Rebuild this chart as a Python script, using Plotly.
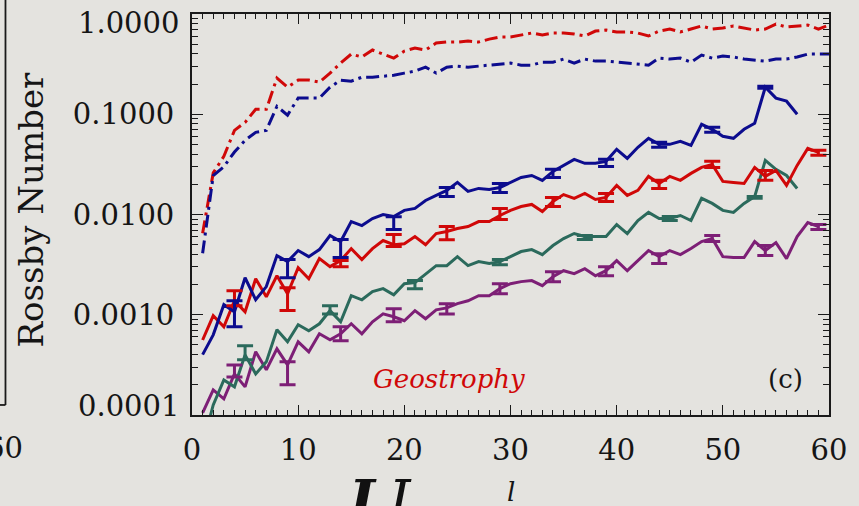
import math
import plotly.graph_objects as go

# ---------------- data ----------------
l_blue = list(range(1, 58))
ro_blue = [4.0e-4, 6.3e-4, 1.26e-3, 1.07e-3, 2.34e-3, 1.41e-3, 1.91e-3, 3.89e-3, 3.39e-3, 4.37e-3,
           3.80e-3, 4.47e-3, 6.17e-3, 5.37e-3, 8.51e-3, 7.76e-3, 9.12e-3, 1.00e-2, 9.55e-3, 1.10e-2,
           1.15e-2, 1.38e-2, 1.55e-2, 1.74e-2, 2.09e-2, 1.70e-2, 1.82e-2, 1.78e-2, 1.86e-2, 2.09e-2,
           2.34e-2, 2.45e-2, 2.19e-2, 2.69e-2, 3.09e-2, 3.55e-2, 3.24e-2, 3.24e-2, 3.39e-2, 4.47e-2,
           3.63e-2, 4.68e-2, 5.75e-2, 5.01e-2, 5.01e-2, 5.37e-2, 4.90e-2, 7.94e-2, 7.08e-2, 6.03e-2,
           5.75e-2, 7.08e-2, 8.13e-2, 0.186, 0.145, 0.135, 0.100]

l_red = list(range(1, 60))
ro_red = [5.6e-4, 9.8e-4, 7.6e-4, 1.38e-3, 1.07e-3, 2.29e-3, 1.51e-3, 2.45e-3, 1.62e-3, 2.95e-3,
          2.29e-3, 3.63e-3, 3.02e-3, 3.47e-3, 4.57e-3, 3.55e-3, 4.57e-3, 5.5e-3, 5.0e-3, 5.1e-3,
          6.03e-3, 5.0e-3, 6.46e-3, 6.76e-3, 7.24e-3, 7.59e-3, 8.51e-3, 8.51e-3, 9.77e-3, 1.10e-2,
          1.20e-2, 1.26e-2, 1.07e-2, 1.35e-2, 1.58e-2, 1.45e-2, 1.62e-2, 1.41e-2, 1.48e-2, 1.95e-2,
          1.55e-2, 1.74e-2, 2.40e-2, 2.04e-2, 2.40e-2, 2.19e-2, 2.57e-2, 2.95e-2, 3.16e-2, 2.14e-2,
          2.09e-2, 2.04e-2, 2.95e-2, 2.40e-2, 2.75e-2, 1.95e-2, 3.09e-2, 4.57e-2, 4.17e-2]

l_teal = list(range(1, 58))
ro_teal = [5.0e-5, 1.26e-4, 2.24e-4, 1.91e-4, 3.98e-4, 2.57e-4, 3.39e-4, 7.08e-4, 5.37e-4, 7.94e-4,
           6.92e-4, 8.13e-4, 1.10e-3, 8.51e-4, 1.55e-3, 1.41e-3, 1.70e-3, 1.82e-3, 1.58e-3, 2.04e-3,
           2.09e-3, 2.57e-3, 3.09e-3, 3.09e-3, 3.80e-3, 3.09e-3, 3.39e-3, 3.24e-3, 3.39e-3, 3.80e-3,
           4.27e-3, 4.47e-3, 3.98e-3, 4.90e-3, 5.75e-3, 6.46e-3, 6.03e-3, 6.03e-3, 6.03e-3, 7.94e-3,
           6.46e-3, 8.71e-3, 1.05e-2, 9.12e-3, 9.12e-3, 9.77e-3, 8.71e-3, 1.45e-2, 1.29e-2, 1.10e-2,
           1.05e-2, 1.29e-2, 1.51e-2, 3.47e-2, 2.82e-2, 2.45e-2, 1.82e-2]

l_purple = list(range(1, 60))
ro_purple = [1.05e-4, 1.78e-4, 1.45e-4, 2.57e-4, 1.91e-4, 4.27e-4, 2.82e-4, 4.57e-4, 3.16e-4, 5.37e-4,
             4.27e-4, 6.46e-4, 5.62e-4, 6.46e-4, 8.13e-4, 6.46e-4, 8.51e-4, 1.02e-3, 9.55e-4, 8.71e-4,
             1.10e-3, 9.12e-4, 1.12e-3, 1.17e-3, 1.29e-3, 1.38e-3, 1.55e-3, 1.55e-3, 1.82e-3, 2.04e-3,
             2.14e-3, 2.19e-3, 1.95e-3, 2.40e-3, 2.75e-3, 2.57e-3, 2.88e-3, 2.45e-3, 2.75e-3, 3.47e-3,
             2.75e-3, 3.47e-3, 4.37e-3, 3.80e-3, 4.37e-3, 3.98e-3, 4.57e-3, 5.37e-3, 5.75e-3, 3.80e-3,
             3.72e-3, 3.72e-3, 5.37e-3, 4.37e-3, 5.25e-3, 3.63e-3, 6.03e-3, 8.32e-3, 7.59e-3]

l_geo = list(range(1, 61))
ro_geo_red = [6.5e-3, 2.6e-2, 3.8e-2, 6.9e-2, 8.3e-2, 0.112, 0.112, 0.229, 0.186, 0.219,
              0.219, 0.209, 0.257, 0.324, 0.398, 0.372, 0.437, 0.398, 0.363, 0.427,
              0.457, 0.437, 0.513, 0.525, 0.525, 0.537, 0.525, 0.562, 0.589, 0.589,
              0.617, 0.646, 0.617, 0.646, 0.646, 0.631, 0.603, 0.676, 0.692, 0.661,
              0.661, 0.646, 0.603, 0.676, 0.708, 0.661, 0.708, 0.759, 0.708, 0.724,
              0.759, 0.724, 0.692, 0.708, 0.794, 0.741, 0.759, 0.776, 0.708, 0.776]
ro_geo_blue = [4.1e-3, 2.45e-2, 3.0e-2, 4.2e-2, 5.5e-2, 6.6e-2, 6.9e-2, 0.120, 0.098, 0.145,
               0.145, 0.145, 0.186, 0.219, 0.214, 0.234, 0.234, 0.240, 0.245, 0.257,
               0.269, 0.295, 0.257, 0.295, 0.302, 0.295, 0.302, 0.309, 0.316, 0.324,
               0.309, 0.309, 0.331, 0.331, 0.355, 0.324, 0.355, 0.339, 0.339, 0.331,
               0.324, 0.316, 0.309, 0.363, 0.355, 0.363, 0.331, 0.389, 0.363, 0.380,
               0.372, 0.355, 0.347, 0.339, 0.355, 0.355, 0.372, 0.398, 0.398, 0.398]

# error bars: positions, lower and upper bounds
eb_l_blue = [4, 9, 14, 19, 24, 29, 34, 39, 44, 49, 54]
eb_lo_blue = [7.6e-4, 2.34e-3, 3.72e-3, 7.1e-3, 1.51e-2, 1.66e-2, 2.34e-2, 3.02e-2, 4.68e-2, 6.6e-2, 0.182]
eb_hi_blue = [1.38e-3, 3.55e-3, 5.62e-3, 9.5e-3, 1.86e-2, 2.04e-2, 2.82e-2, 3.55e-2, 5.25e-2, 7.4e-2, 0.19]

eb_l_red = [4, 9, 14, 19, 24, 29, 34, 39, 44, 49, 54, 59]
eb_lo_red = [1.23e-3, 1.10e-3, 3.02e-3, 4.8e-3, 5.6e-3, 8.9e-3, 1.20e-2, 1.35e-2, 1.82e-2, 2.95e-2, 2.19e-2, 3.89e-2]
eb_hi_red = [1.74e-3, 1.86e-3, 3.47e-3, 6.3e-3, 7.6e-3, 1.15e-2, 1.48e-2, 1.62e-2, 2.19e-2, 3.39e-2, 2.75e-2, 4.37e-2]

eb_l_teal = [5, 13, 21, 29, 37, 45, 53]
eb_lo_teal = [3.55e-4, 1.02e-3, 1.82e-3, 3.16e-3, 5.62e-3, 8.71e-3, 1.45e-2]
eb_hi_teal = [4.9e-4, 1.23e-3, 2.19e-3, 3.55e-3, 6.17e-3, 9.55e-3, 1.51e-2]

eb_l_purple = [4, 9, 14, 19, 24, 29, 34, 39, 44, 49, 54, 59]
eb_lo_purple = [2.40e-4, 2.0e-4, 5.5e-4, 8.5e-4, 1.02e-3, 1.62e-3, 2.14e-3, 2.45e-3, 3.24e-3, 5.37e-3, 3.89e-3, 7.08e-3]
eb_hi_purple = [3.16e-4, 3.39e-4, 7.6e-4, 1.15e-3, 1.29e-3, 2.04e-3, 2.69e-3, 3.02e-3, 4.07e-3, 6.17e-3, 4.9e-3, 7.94e-3]

y_tick_vals = [1e-4, 1e-3, 1e-2, 1e-1, 1.0]
y_tick_text = ["0.0001", "0.0010", "0.0100", "0.1000", "1.0000"]
x_tick_vals = [0, 10, 20, 30, 40, 50, 60]

# ---------------- styling ----------------
BG = "#e4e3df"
BLUE = "#0c0c8e"
RED = "#d00808"
TEAL = "#2b6a5c"
PURPLE = "#7d1f76"
AX = "#1a1a1a"
TXT = "#151515"
SERIF = "DejaVu Serif"
TICK_SIZE = 29

fig = go.Figure()


def add_errbars(xs, lo, hi, color):
    yc = [math.sqrt(a * b) for a, b in zip(lo, hi)]
    fig.add_trace(go.Scatter(
        x=xs, y=yc, mode="markers",
        marker=dict(size=1, opacity=0, color=color),
        error_y=dict(type="data", symmetric=False,
                     array=[h - c for h, c in zip(hi, yc)],
                     arrayminus=[c - a for c, a in zip(yc, lo)],
                     color=color, thickness=3, width=8),
        showlegend=False, hoverinfo="skip"))


dashdot = "13px,5px,3px,5px"
fig.add_trace(go.Scatter(x=l_geo, y=ro_geo_red, mode="lines",
                         line=dict(color=RED, width=3, dash=dashdot), showlegend=False))
fig.add_trace(go.Scatter(x=l_geo, y=ro_geo_blue, mode="lines",
                         line=dict(color=BLUE, width=3, dash=dashdot), showlegend=False))

for xs, ys, col in [(l_purple, ro_purple, PURPLE), (l_teal, ro_teal, TEAL),
                    (l_red, ro_red, RED), (l_blue, ro_blue, BLUE)]:
    fig.add_trace(go.Scatter(x=xs, y=ys, mode="lines",
                             line=dict(color=col, width=3), showlegend=False))

add_errbars(eb_l_purple, eb_lo_purple, eb_hi_purple, PURPLE)
add_errbars(eb_l_teal, eb_lo_teal, eb_hi_teal, TEAL)
add_errbars(eb_l_red, eb_lo_red, eb_hi_red, RED)
add_errbars(eb_l_blue, eb_lo_blue, eb_hi_blue, BLUE)

fig.update_layout(
    width=859, height=506,
    margin=dict(l=192, r=25, t=14, b=91),
    paper_bgcolor=BG, plot_bgcolor=BG,
    font=dict(family=SERIF, color=TXT),
)

fig.update_xaxes(
    range=[0, 60], tickvals=x_tick_vals, ticktext=[str(v) for v in x_tick_vals],
    ticks="inside", ticklen=10, tickwidth=1.3, tickcolor=AX,
    showline=True, linecolor=AX, linewidth=1.8, mirror="ticks",
    showgrid=False, zeroline=False,
    tickfont=dict(family=SERIF, size=TICK_SIZE, color=TXT),
    ticklabelstandoff=8,
    minor=dict(ticks="inside", ticklen=5, tickwidth=1.2, tickcolor=AX, dtick=1, showgrid=False),
)

fig.update_yaxes(
    type="log", range=[-4, 0],
    tickvals=y_tick_vals, ticktext=["", y_tick_text[1], y_tick_text[2], y_tick_text[3], ""],
    ticks="inside", ticklen=11, tickwidth=1.3, tickcolor=AX,
    showline=True, linecolor=AX, linewidth=1.8, mirror="ticks",
    showgrid=False, zeroline=False,
    tickfont=dict(family=SERIF, size=TICK_SIZE, color=TXT),
    ticklabelstandoff=10,
    minor=dict(ticks="inside", ticklen=6, tickwidth=1.2, tickcolor=AX, dtick="D1", showgrid=False),
)

# end labels of the y axis (placed like the original, nudged inward)
fig.add_annotation(x=0, xref="paper", xanchor="right", xshift=-11, y=1, yref="paper",
                   yanchor="middle", yshift=-9, text=y_tick_text[4], showarrow=False,
                   font=dict(family=SERIF, size=TICK_SIZE, color=TXT))
fig.add_annotation(x=0, xref="paper", xanchor="right", xshift=-11, y=0, yref="paper",
                   yanchor="middle", yshift=9, text=y_tick_text[0], showarrow=False,
                   font=dict(family=SERIF, size=TICK_SIZE, color=TXT))

# axis titles
fig.add_annotation(x=0, xref="paper", xanchor="center", xshift=-162, y=0.5, yref="paper",
                   yanchor="middle", yshift=5, text="Rossby Number", textangle=-90,
                   showarrow=False, font=dict(family=SERIF, size=34, color=TXT))
fig.add_annotation(x=0.5, xref="paper", xanchor="center", y=0, yref="paper", yanchor="top",
                   yshift=-60, text="<i>l</i>", showarrow=False,
                   font=dict(family=SERIF, size=26, color=TXT))

# in-panel labels
fig.add_annotation(x=0.403, xref="paper", xanchor="center", y=0.09, yref="paper",
                   yanchor="middle", text="<i>Geostrophy</i>", showarrow=False,
                   font=dict(family=SERIF, size=26, color=RED))
fig.add_annotation(x=0.931, xref="paper", xanchor="center", y=0.09, yref="paper",
                   yanchor="middle", text="(c)", showarrow=False,
                   font=dict(family=SERIF, size=26, color=TXT))

# fragments of neighbouring panels on the page
fig.add_shape(type="line", xref="paper", yref="paper", x0=-0.2928, x1=-0.2928, y0=1.05, y1=0.025,
              line=dict(color=AX, width=1.8))
fig.add_shape(type="line", xref="paper", yref="paper", x0=-0.31, x1=-0.2928, y0=0.025, y1=0.025,
              line=dict(color=AX, width=1.8))
fig.add_annotation(x=-0.262, xref="paper", xanchor="right", y=0, yref="paper", yanchor="top",
                   yshift=-14, text="60", showarrow=False,
                   font=dict(family=SERIF, size=TICK_SIZE, color=TXT))
fig.add_annotation(x=0.305, xref="paper", xanchor="center", y=0, yref="paper", yanchor="top",
                   yshift=-50, text="<b><i>L</i></b><i>L</i>", showarrow=False,
                   font=dict(family=SERIF, size=56, color="#111111"))

fig.write_html("out.html", config={"displayModeBar": False},
               post_script="document.body.style.margin='0';")
